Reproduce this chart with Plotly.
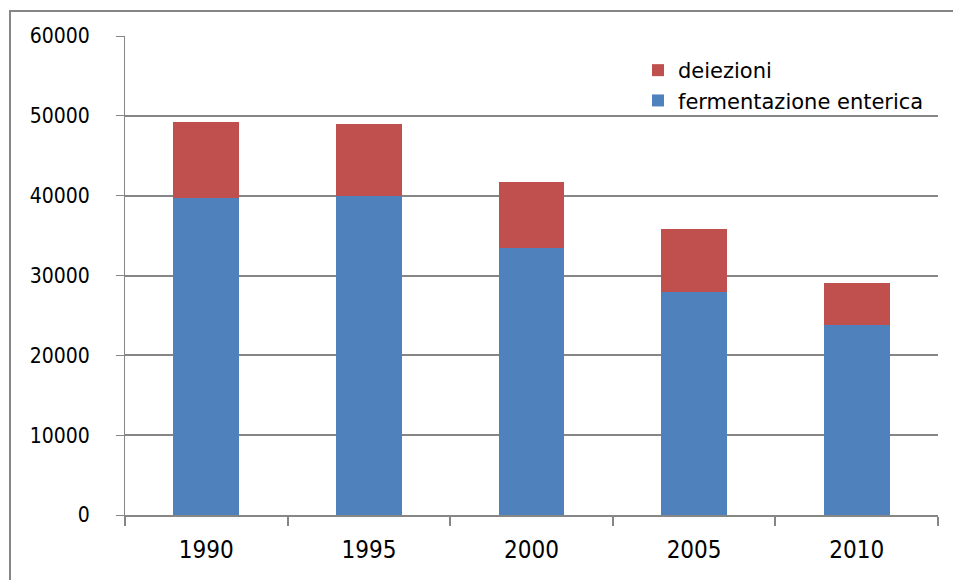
import plotly.graph_objects as go

years = ["1990", "1995", "2000", "2005", "2010"]
fermentazione = [39700, 40000, 33400, 27900, 23750]
deiezioni_totale = [49250, 49000, 41750, 35880, 29000]
deiezioni = [t - f for t, f in zip(deiezioni_totale, fermentazione)]
y_ticks = [0, 10000, 20000, 30000, 40000, 50000, 60000]

# page body has an 8px default margin; work in screen coordinates and compensate
OFF = 8
W, H = 961 - OFF, 580 - OFF
PL, PR, PT, PB = 125, 938, 36, 515   # plot area in screen pixels
L = PL - OFF
T = PT - OFF
R = W - (PR - OFF)
B = H - (PB - OFF)
pw = PR - PL
ph = PB - PT

def px_x(x):
    return (x - PL) / pw

def px_y(y):
    return (PB - y) / ph

fig = go.Figure()
fig.add_bar(x=years, y=fermentazione, name="fermentazione enterica",
            marker=dict(color="#4F81BD", line=dict(width=0)))
fig.add_bar(x=years, y=deiezioni, name="deiezioni",
            marker=dict(color="#C0504D", line=dict(width=0)))

grey = "#868686"
fig.update_layout(
    width=W, height=H,
    margin=dict(l=L, r=R, t=T, b=B, pad=0),
    barmode="stack", bargap=0.595,
    plot_bgcolor="white", paper_bgcolor="white",
    showlegend=True,
    legend=dict(x=px_x(638), y=px_y(50), xanchor="left", yanchor="top",
                traceorder="reversed", bgcolor="rgba(0,0,0,0)",
                font=dict(family="DejaVu Sans", size=21, color="#000000"),
                itemwidth=30, tracegroupgap=0),
    xaxis=dict(type="category", showgrid=False, showline=True, linecolor=grey, linewidth=2,
               ticks="outside", tickson="boundaries", ticklen=9, tickcolor=grey, tickwidth=2,
               tickfont=dict(family="DejaVu Sans Condensed", size=24, color="#000000"),
               ticklabelstandoff=12),
    yaxis=dict(range=[0, 60000], tickvals=y_ticks, ticktext=[str(v) for v in y_ticks],
               showgrid=True, gridcolor=grey, gridwidth=2, zeroline=False,
               showline=True, linecolor=grey, linewidth=1,
               ticks="outside", ticklen=8, tickcolor=grey, tickwidth=1,
               tickfont=dict(family="DejaVu Sans Condensed", size=21, color="#000000"),
               ticklabelstandoff=22),
    shapes=[
        dict(type="rect", xref="paper", yref="paper", x0=px_x(10), x1=px_x(990),
             y0=px_y(11), y1=px_y(620), line=dict(color=grey, width=2),
             fillcolor="rgba(0,0,0,0)", layer="above"),
    ],
)
fig.write_html("out.html")
